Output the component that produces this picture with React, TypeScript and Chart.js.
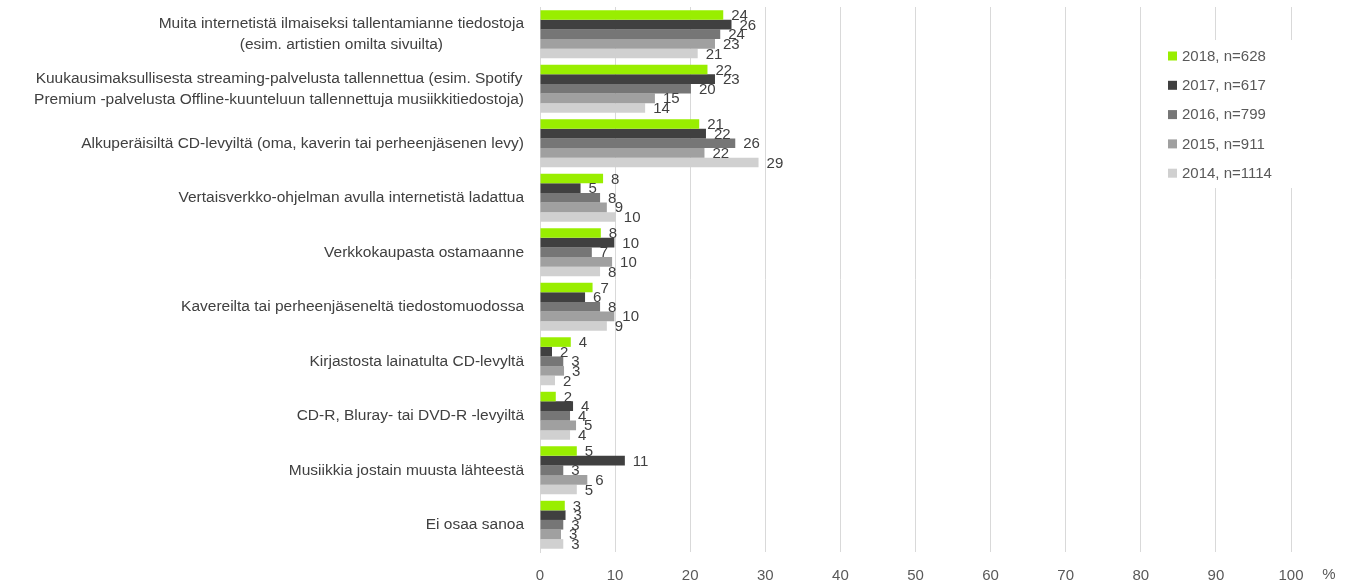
import React, { useEffect, useRef } from "react";
import { Chart, registerables } from "chart.js";
Chart.register(...registerables);

const categories: string[][] = [
  ["Muita internetistä ilmaiseksi tallentamianne tiedostoja", "(esim. artistien omilta sivuilta)"],
  ["Kuukausimaksullisesta streaming-palvelusta tallennettua (esim. Spotify", "Premium -palvelusta Offline-kuunteluun tallennettuja musiikkitiedostoja)"],
  ["Alkuperäisiltä CD-levyiltä (oma, kaverin tai perheenjäsenen levy)"],
  ["Vertaisverkko-ohjelman avulla internetistä ladattua"],
  ["Verkkokaupasta ostamaanne"],
  ["Kavereilta tai perheenjäseneltä tiedostomuodossa"],
  ["Kirjastosta lainatulta CD-levyltä"],
  ["CD-R, Bluray- tai DVD-R -levyiltä"],
  ["Musiikkia jostain muusta lähteestä"],
  ["Ei osaa sanoa"],
];

const seriesNames = ["2018, n=628", "2017, n=617", "2016, n=799", "2015, n=911", "2014, n=1114"];
const seriesColors = ["#99EE00", "#404040", "#767676", "#A0A0A0", "#D0D0D0"];

const s2018 = [24.4, 22.3, 21.2, 8.4, 8.1, 7.0, 4.1, 2.1, 4.9, 3.3];
const s2017 = [25.5, 23.3, 22.1, 5.4, 9.9, 6.0, 1.6, 4.4, 11.3, 3.4];
const s2016 = [24.0, 20.1, 26.0, 8.0, 6.9, 8.0, 3.1, 4.0, 3.1, 3.1];
const s2015 = [23.3, 15.3, 21.9, 8.9, 9.6, 9.9, 3.2, 4.8, 6.3, 2.8];
const s2014 = [21.0, 14.0, 29.1, 10.1, 8.0, 8.9, 2.0, 4.0, 4.9, 3.1];

const xMin = 0;
const xMax = 100;
const xStep = 10;
const unitLabel = "%";

const FONT = "'Liberation Sans', Arial, sans-serif";
const TEXT = "#404040";
const TICK = "#595959";
const GRID = "#D9D9D9";

const overlayPlugin = {
  id: "overlay",
  afterDatasetsDraw(chart: any) {
    const ctx = chart.ctx;
    const area = chart.chartArea;
    const yScale = chart.scales.y;
    ctx.save();
    // category labels
    ctx.font = `15.5px ${FONT}`;
    ctx.fillStyle = TEXT;
    ctx.textBaseline = "middle";
    const lineH = 21;
    categories.forEach((lines, i) => {
      const cy = yScale.getPixelForValue(i);
      const widths = lines.map((l) => ctx.measureText(l).width);
      const maxW = Math.max(...widths);
      const right = area.left - 16;
      const center = right - maxW / 2;
      lines.forEach((l, j) => {
        const y = cy + (j - (lines.length - 1) / 2) * lineH;
        ctx.textAlign = "center";
        ctx.fillText(l, center, y);
      });
    });
    // data labels
    ctx.font = `15px ${FONT}`;
    ctx.fillStyle = TEXT;
    ctx.textAlign = "left";
    chart.data.datasets.forEach((ds: any, di: number) => {
      const meta = chart.getDatasetMeta(di);
      meta.data.forEach((bar: any, i: number) => {
        const v = ds.data[i];
        ctx.fillText(String(Math.round(v)), bar.x + 8, bar.y + 1);
      });
    });
    // legend
    const lx = 1155;
    const ly = 40;
    ctx.fillStyle = "#FFFFFF";
    ctx.fillRect(lx, ly, 150, 148);
    ctx.font = `15px ${FONT}`;
    ctx.textAlign = "left";
    seriesNames.forEach((n, i) => {
      const y = 56 + i * 29.3;
      ctx.fillStyle = seriesColors[i];
      ctx.fillRect(1168, y - 4.5, 9, 9);
      ctx.fillStyle = TICK;
      ctx.fillText(n, 1182, y + 0.5);
    });
    // unit label
    ctx.fillStyle = TICK;
    ctx.textAlign = "center";
    ctx.fillText(unitLabel, 1329, 575);
    ctx.restore();
  },
};

export default function App() {
  const ref = useRef<HTMLCanvasElement | null>(null);
  useEffect(() => {
    if (!ref.current) return;
    const datasets = [s2018, s2017, s2016, s2015, s2014].map((d, i) => ({
      label: seriesNames[i],
      data: d,
      backgroundColor: seriesColors[i],
      borderWidth: 0,
      barPercentage: 1.0,
      categoryPercentage: 0.88,
    }));
    const chart = new Chart(ref.current, {
      type: "bar",
      data: { labels: categories.map((c) => c.join(" ")), datasets },
      options: {
        indexAxis: "y",
        responsive: true,
        maintainAspectRatio: false,
        animation: false,
        layout: { padding: { top: 7, right: 60, left: 0, bottom: 0 } },
        plugins: { legend: { display: false }, tooltip: { enabled: false } },
        scales: {
          x: {
            min: xMin,
            max: xMax,
            ticks: { stepSize: xStep, color: TICK, font: { family: FONT, size: 15 }, padding: 15 },
            grid: { color: GRID, drawTicks: false },
            border: { display: false },
            afterFit: (s: any) => {
              s.height = 33;
            },
          },
          y: {
            ticks: { display: false },
            grid: { display: false },
            border: { display: true, color: GRID },
            afterFit: (s: any) => {
              s.width = 540;
            },
          },
        },
      } as any,
      plugins: [overlayPlugin],
    });
    return () => chart.destroy();
  }, []);
  return (
    <div style={{ position: "absolute", left: 0, top: 0, width: 1351, height: 585 }}>
      <canvas ref={ref} />
    </div>
  );
}
